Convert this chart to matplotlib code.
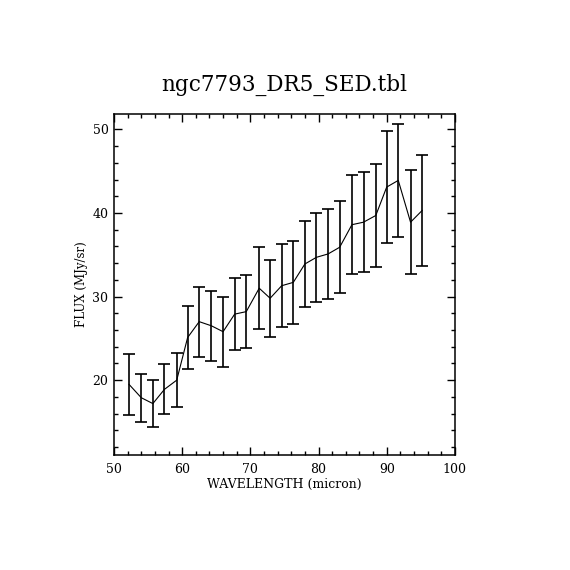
import matplotlib
matplotlib.use("Agg")
import matplotlib.pyplot as plt
from matplotlib.ticker import MultipleLocator

# wavelength (micron), flux (MJy/sr), 1-sigma error
wave = [52.2, 54.0, 55.7, 57.4, 59.2, 60.8, 62.5, 64.3, 66.0, 67.7,
        69.4, 71.3, 72.9, 74.6, 76.3, 78.0, 79.7, 81.4, 83.1, 84.9,
        86.6, 88.4, 90.0, 91.7, 93.5, 95.2]
flux = [19.5, 17.9, 17.2, 18.9, 20.0, 25.1, 27.0, 26.5, 25.8, 27.9,
        28.2, 31.0, 29.8, 31.3, 31.7, 33.9, 34.7, 35.1, 35.9, 38.6,
        38.9, 39.7, 43.1, 43.9, 38.9, 40.3]
err = [3.65, 2.85, 2.85, 3.0, 3.25, 3.8, 4.2, 4.15, 4.2, 4.3,
       4.4, 4.9, 4.6, 4.95, 5.0, 5.15, 5.35, 5.4, 5.5, 5.9,
       6.0, 6.2, 6.7, 6.75, 6.2, 6.6]

plt.rcParams['font.family'] = ['DejaVu Serif']

fig = plt.figure(figsize=(5.7, 5.7), dpi=100)
ax = fig.add_axes([0.2, 0.2018, 0.598, 0.598])

ax.errorbar(wave, flux, yerr=err, color='black', linewidth=0.8,
            elinewidth=1.2, capsize=4.5, capthick=1.2)

ax.set_xlim(50, 100)
ax.set_ylim(11.05, 51.83)
ax.xaxis.set_major_locator(MultipleLocator(10))
ax.xaxis.set_minor_locator(MultipleLocator(2))
ax.yaxis.set_major_locator(MultipleLocator(10))
ax.yaxis.set_minor_locator(MultipleLocator(2))
ax.tick_params(which='both', direction='in', top=True, right=True, width=1)
ax.tick_params(which='major', length=6)
ax.tick_params(which='minor', length=3)
ax.tick_params(axis='x', pad=6, labelsize=9)
ax.tick_params(axis='y', pad=4, labelsize=9)
for s in ax.spines.values():
    s.set_linewidth(1.1)

ax.set_xlabel('WAVELENGTH (micron)', fontsize=9, labelpad=1)
ax.set_ylabel('FLUX (MJy/sr)', fontsize=8.5, labelpad=3)
ax.set_title('ngc7793_DR5_SED.tbl', fontsize=15.5, pad=17)

fig.savefig('out.png', dpi=100, facecolor='white')
